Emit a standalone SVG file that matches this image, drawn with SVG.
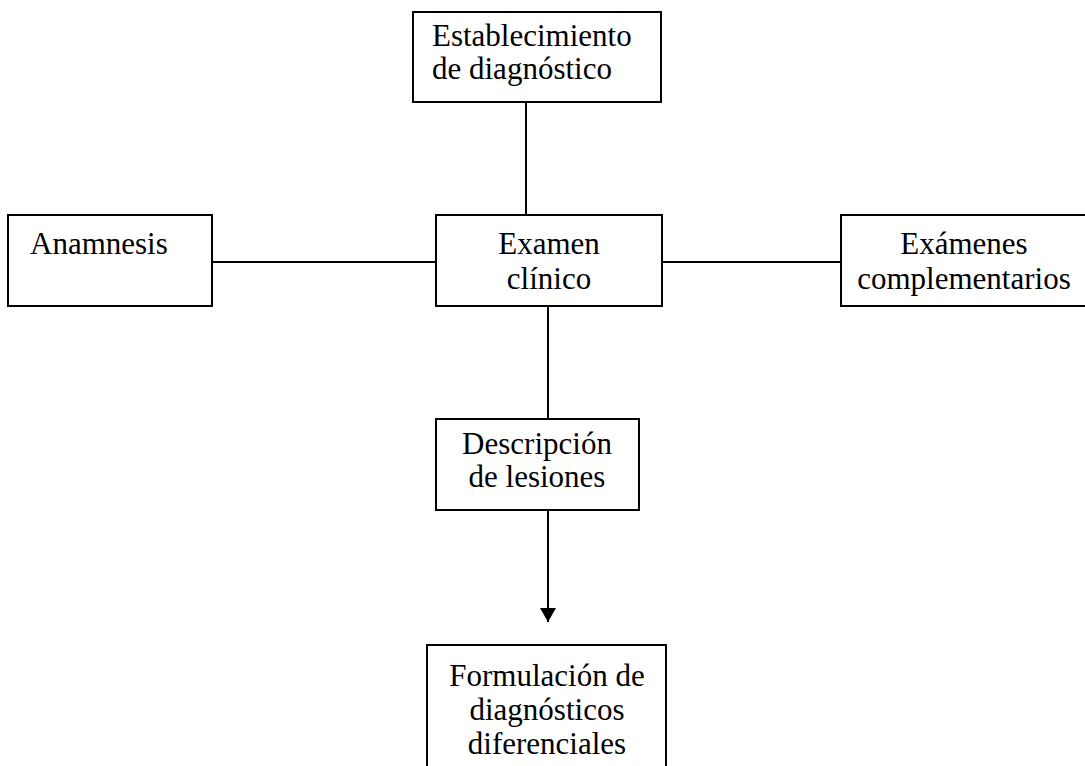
<svg xmlns="http://www.w3.org/2000/svg" width="1085" height="766" viewBox="0 0 1085 766">
<style>
.box{fill:#fff;stroke:#000;stroke-width:2}
.t{font-family:"Liberation Serif","Times New Roman",serif;font-size:31px;fill:#000}
.c{text-anchor:middle}
.ln{stroke:#000;stroke-width:2;fill:none}
</style>
<defs>
<marker id="arr" markerWidth="16" markerHeight="16" refX="14" refY="8" orient="auto" markerUnits="userSpaceOnUse" viewBox="0 0 16 16">
<path d="M0,0 L14,8 L0,16 Z" fill="#000"/>
</marker>
</defs>
<rect width="1085" height="766" fill="#fff"/>
<g id="connectors">
<line class="ln" x1="526" y1="102" x2="526" y2="215"/>
<line class="ln" x1="212" y1="262" x2="436" y2="262"/>
<line class="ln" x1="662" y1="262" x2="841" y2="262"/>
<line class="ln" x1="548" y1="306" x2="548" y2="419"/>
<line class="ln" x1="548" y1="510" x2="548" y2="622" marker-end="url(#arr)"/>
</g>
<g id="n-establecimiento">
<rect class="box" x="413" y="12" width="248" height="90"/>
<text class="t" x="432" y="46">Establecimiento</text>
<text class="t" x="432" y="79">de diagnóstico</text>
</g>
<g id="n-anamnesis">
<rect class="box" x="8" y="215" width="204" height="91"/>
<text class="t" x="30" y="254">Anamnesis</text>
</g>
<g id="n-examen">
<rect class="box" x="436" y="215" width="226" height="91"/>
<text class="t c" x="549" y="254">Examen</text>
<text class="t c" x="549" y="289">clínico</text>
</g>
<g id="n-examenes">
<rect class="box" x="841" y="215" width="250" height="91"/>
<text class="t c" x="964" y="254">Exámenes</text>
<text class="t c" x="964" y="289">complementarios</text>
</g>
<g id="n-descripcion">
<rect class="box" x="436" y="419" width="203" height="91"/>
<text class="t c" x="537" y="454">Descripción</text>
<text class="t c" x="537" y="487">de lesiones</text>
</g>
<g id="n-formulacion">
<rect class="box" x="427" y="645" width="239" height="130"/>
<text class="t c" x="547" y="686">Formulación de</text>
<text class="t c" x="547" y="720">diagnósticos</text>
<text class="t c" x="547" y="754">diferenciales</text>
</g>
</svg>
